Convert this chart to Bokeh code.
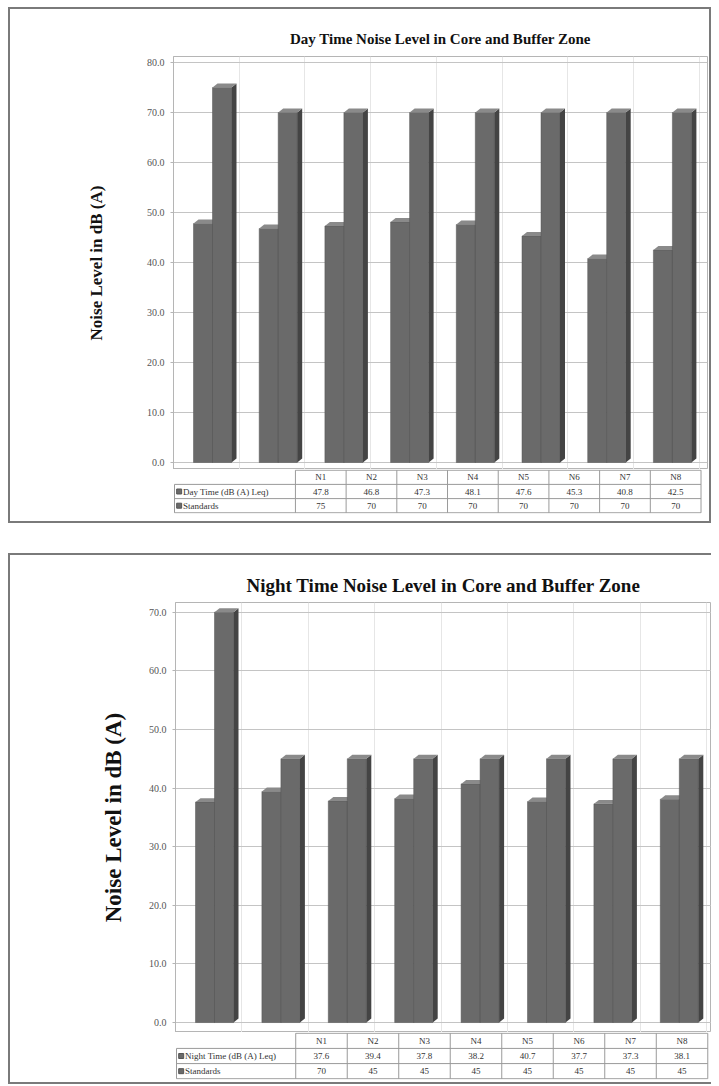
from bokeh.plotting import figure
from bokeh.layouts import column
from bokeh.models import FixedTicker, Spacer, NumeralTickFormatter, Range1d
from bokeh.core.properties import value
from bokeh.embed import file_html
from bokeh.resources import INLINE

# ---------------- data ----------------
categories = ["N1", "N2", "N3", "N4", "N5", "N6", "N7", "N8"]
day_levels = [47.8, 46.8, 47.3, 48.1, 47.6, 45.3, 40.8, 42.5]
day_standards = [75, 70, 70, 70, 70, 70, 70, 70]
night_levels = [37.6, 39.4, 37.8, 38.2, 40.7, 37.7, 37.3, 38.1]
night_standards = [70, 45, 45, 45, 45, 45, 45, 45]
day_ticks = [0, 10, 20, 30, 40, 50, 60, 70, 80]
night_ticks = [0, 10, 20, 30, 40, 50, 60, 70]
day_title = "Day Time Noise Level in Core and Buffer Zone"
night_title = "Night Time Noise Level in Core and Buffer Zone"
y_label = "Noise Level in dB (A)"
day_row_label = "Day Time (dB (A) Leq)"
night_row_label = "Night Time (dB (A) Leq)"
std_row_label = "Standards"

# ---------------- style ----------------
SERIF = "Liberation Serif"
FRONT = "#6a6a6a"
SIDE = "#444444"
TOP = "#8a8a8a"
EDGE = "#555555"
GRID = "#c4c4c4"
TABLE_LINE = "#9a9a9a"


def draw_bars(p, vals, off, bw, dx, dy):
    n = len(vals)
    x0 = [i + off for i in range(n)]
    x1 = [a + bw for a in x0]
    p.quad(left=x0, right=x1, bottom=[0] * n, top=vals,
           fill_color=FRONT, line_color=EDGE, line_width=0.5)
    p.patches([[b, b + dx, b + dx, b] for b in x1],
              [[0, dy, v + dy, v] for v in vals],
              fill_color=SIDE, line_color=None)
    p.patches([[a, a + dx, b + dx, b] for a, b in zip(x0, x1)],
              [[v, v + dy, v + dy, v] for v in vals],
              fill_color=TOP, line_color=None)


def make_block(levels, standards, ticks, title, title_size, title_offset,
               title_standoff, ylab_size, ylab_standoff, row_label, cfg):
    n = len(categories)
    band = cfg["band"]
    ppu = cfg["ppu"]
    fw = cfg["inner_w"] - cfg["left"] - cfg["right"]
    xmax = fw / band
    ymin = -cfg["below0"] / ppu
    ymax = cfg["above_top"] / ppu

    p = figure(width=cfg["inner_w"], height=cfg["chart_h"],
               x_range=Range1d(0, xmax), y_range=Range1d(ymin, ymax),
               x_axis_location=None, toolbar_location=None,
               output_backend="svg",
               min_border_left=cfg["left"], min_border_right=cfg["right"],
               min_border_top=0, min_border_bottom=0)
    p.title.text = title
    p.title.align = "center"
    p.title.offset = title_offset
    p.title.standoff = title_standoff
    p.title.text_font = SERIF
    p.title.text_font_size = title_size
    p.title.text_font_style = "bold"
    p.title.text_color = "#111111"
    p.outline_line_color = "#b5b5b5"
    p.background_fill_color = "white"
    p.border_fill_color = "white"

    p.yaxis.ticker = FixedTicker(ticks=ticks)
    p.yaxis.formatter = NumeralTickFormatter(format="0.0")
    p.yaxis.major_label_text_font = SERIF
    p.yaxis.major_label_text_font_size = "10px"
    p.yaxis.major_label_text_color = "#555555"
    p.yaxis.major_tick_out = 3
    p.yaxis.major_tick_in = 0
    p.yaxis.minor_tick_out = 0
    p.yaxis.minor_tick_in = 0
    p.yaxis.major_tick_line_color = "#b5b5b5"
    p.yaxis.axis_line_color = "#b5b5b5"
    p.yaxis.major_label_standoff = 6
    p.yaxis.axis_label = y_label
    p.yaxis.axis_label_text_font = SERIF
    p.yaxis.axis_label_text_font_size = ylab_size
    p.yaxis.axis_label_text_font_style = "bold"
    p.yaxis.axis_label_text_color = "#111111"
    p.yaxis.axis_label_standoff = ylab_standoff

    p.ygrid.grid_line_color = GRID
    p.xgrid.ticker = FixedTicker(ticks=list(range(n + 1)))
    p.xgrid.grid_line_color = "#e6e6e6"

    dx = 5 / band
    dy = 4 / ppu
    bw = 19 / band
    off0 = 20 / band
    draw_bars(p, levels, off0, bw, dx, dy)
    draw_bars(p, standards, off0 + bw, bw, dx, dy)

    # ---- data table ----
    tl = cfg["table_left"]
    xmin_t = -(cfg["left"] - tl) / band
    t = figure(width=cfg["inner_w"], height=cfg["table_h"],
               x_range=Range1d(xmin_t, xmax), y_range=Range1d(-0.05, 3.05),
               x_axis_location=None, y_axis_location=None,
               toolbar_location=None, output_backend="svg",
               min_border_left=tl, min_border_right=cfg["right"],
               min_border_top=0, min_border_bottom=cfg["table_bottom"])
    t.grid.visible = False
    t.outline_line_color = None
    t.background_fill_color = "white"
    t.border_fill_color = "white"

    xs = [i + 0.5 for i in range(n)]
    lab_x = xmin_t + 0.02
    t.segment(x0=[lab_x, lab_x, lab_x, 0], y0=[0, 1, 2, 3],
              x1=[n, n, n, n], y1=[0, 1, 2, 3],
              line_color=TABLE_LINE, line_width=1)
    t.segment(x0=list(range(n + 1)), y0=[0] * (n + 1),
              x1=list(range(n + 1)), y1=[3] * (n + 1),
              line_color=TABLE_LINE, line_width=1)
    t.segment(x0=[lab_x], y0=[0], x1=[lab_x], y1=[2],
              line_color=TABLE_LINE, line_width=1)

    common = dict(text_font=value(SERIF), text_font_size="9px",
                  text_color="#333333", text_baseline="middle")
    t.text(x=xs, y=[2.5] * n, text=categories, text_align="center", **common)
    t.text(x=xs, y=[1.5] * n, text=[f"{v:.1f}" for v in levels],
           text_align="center", **common)
    t.text(x=xs, y=[0.5] * n, text=[f"{v:g}" for v in standards],
           text_align="center", **common)

    mark_x = lab_x + 6 / band
    t.scatter(x=[mark_x, mark_x], y=[1.5, 0.5], marker="square", size=5,
              fill_color=FRONT, line_color=EDGE)
    t.text(x=[mark_x + 5 / band] * 2, y=[1.5, 0.5],
           text=[row_label, std_row_label], text_align="left", **common)

    return column(Spacer(height=cfg["pad_top"], width=cfg["inner_w"]), p, t,
                  styles=cfg["styles"])


top_cfg = dict(inner_w=699, chart_h=451, table_h=52, left=163, right=2,
               pad_top=9, band=65.7, ppu=5.0, below0=7, above_top=406,
               table_left=5, table_bottom=8,
               styles={"border": "2px solid #7a7a7a"})
bottom_cfg = dict(inner_w=701, chart_h=467, table_h=50, left=165, right=0,
                  pad_top=10, band=66.4, ppu=5.89, below0=10, above_top=422,
                  table_left=10, table_bottom=3,
                  styles={"border-top": "2px solid #7a7a7a",
                          "border-left": "2px solid #7a7a7a",
                          "border-bottom": "2px solid #7a7a7a"})

top_block = make_block(day_levels, day_standards, day_ticks, day_title,
                       "15px", -76, 20, "17px", 38, day_row_label, top_cfg)
bottom_block = make_block(night_levels, night_standards, night_ticks,
                          night_title, "19px", 7, 14, "23px", 20,
                          night_row_label, bottom_cfg)

layout = column(top_block, Spacer(height=30), bottom_block,
                margin=(7, 0, 0, 8))

open("out.html", "w").write(file_html(layout, INLINE))
